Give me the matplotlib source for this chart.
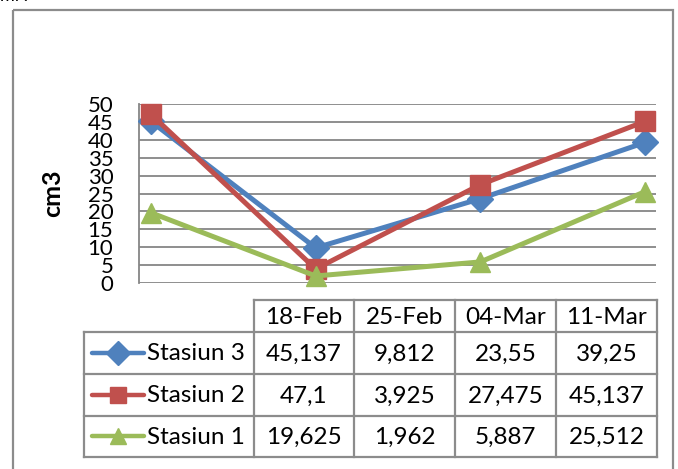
import numpy as np
import matplotlib
matplotlib.use('Agg')
from matplotlib import pyplot as plt
from matplotlib.patches import Rectangle

plt.rcParams['font.family'] = ['Lato', 'DejaVu Sans']

dates = ['18-Feb', '25-Feb', '04-Mar', '11-Mar']
series_names = ['Stasiun 3', 'Stasiun 2', 'Stasiun 1']
stasiun3 = [45.137, 9.812, 23.55, 39.25]
stasiun2 = [47.1, 3.925, 27.475, 45.137]
stasiun1 = [19.625, 1.962, 5.887, 25.512]
yticks = list(range(0, 55, 5))

colors = ['#4F81BD', '#C0504D', '#9BBB59']
markers = ['D', 's', '^']
msizes = [13, 14, 15]
values = [stasiun3, stasiun2, stasiun1]

W, H = 678, 469
fig = plt.figure(figsize=(W / 100, H / 100), dpi=100)

# pixel helper for placing axes
def box(x0, y0, x1, y1):
    return [x0 / W, 1 - y1 / H, (x1 - x0) / W, (y1 - y0) / H]

# outer chart frame + cropped text above
bg = fig.add_axes([0, 0, 1, 1])
bg.set_xlim(0, W)
bg.set_ylim(H, 0)
bg.axis('off')
bg.add_patch(Rectangle((13, 10), 660, 470, fill=False, ec='#8c8c8c', lw=1.6))
bg.text(0, -4, 'ml .', fontsize=13, va='center', ha='left', color='black')

ax = fig.add_axes(box(139, 104, 656, 283))
x = np.arange(len(dates))
for vals, c, m, ms in zip(values, colors, markers, msizes):
    ax.plot(x, vals, color=c, lw=3.6, marker=m, ms=ms, mec=c, mfc=c, clip_on=False, zorder=3)
ax.set_xlim(-0.073, 3.067)
ax.set_ylim(0, 50)
ax.set_yticks(yticks)
ax.set_yticklabels([str(t) for t in yticks], fontsize=16)
ax.set_xticks([])
ax.tick_params(axis='y', length=0, pad=18.5)
for t in yticks:
    ax.axhline(t, color='#868686', lw=1.3, zorder=1)
for s in ['top', 'right', 'bottom']:
    ax.spines[s].set_visible(False)
ax.spines['left'].set_color('#868686')
ax.spines['left'].set_linewidth(1.3)
ax.set_ylabel('cm3', fontsize=18, fontweight='bold')
ax.yaxis.set_label_coords(-0.145, 0.5)

# data table
tc = '#8c8c8c'
col_x = [254, 354, 455, 556, 657]
row_y = [300, 332, 374, 416, 457]
leg_x = 84
fs = 17.5

bg.plot([col_x[0], col_x[-1]], [row_y[0], row_y[0]], color=tc, lw=1.6)
for cx in col_x:
    bg.plot([cx, cx], [row_y[0], row_y[-1]], color=tc, lw=1.6)
for ry in row_y[1:]:
    bg.plot([leg_x, col_x[-1]], [ry, ry], color=tc, lw=1.6)
bg.plot([leg_x, leg_x], [row_y[1], row_y[-1]], color=tc, lw=1.6)

for j, d in enumerate(dates):
    bg.text((col_x[j] + col_x[j + 1]) / 2, (row_y[0] + row_y[1]) / 2 + 1, d,
            ha='center', va='center', fontsize=fs)

for i, (name, vals, c, m) in enumerate(zip(series_names, values, colors, markers)):
    yc = (row_y[i + 1] + row_y[i + 2]) / 2
    bg.plot([92, 144], [yc, yc], color=c, lw=3.2, solid_capstyle='round')
    bg.plot([118], [yc], marker=m, ms=12, color=c)
    bg.text(147, yc + 1, name, ha='left', va='center', fontsize=fs)
    for j, v in enumerate(vals):
        bg.text((col_x[j] + col_x[j + 1]) / 2, yc + 1, f'{v:g}'.replace('.', ','),
                ha='center', va='center', fontsize=fs)

fig.savefig('out.png', dpi=100)
